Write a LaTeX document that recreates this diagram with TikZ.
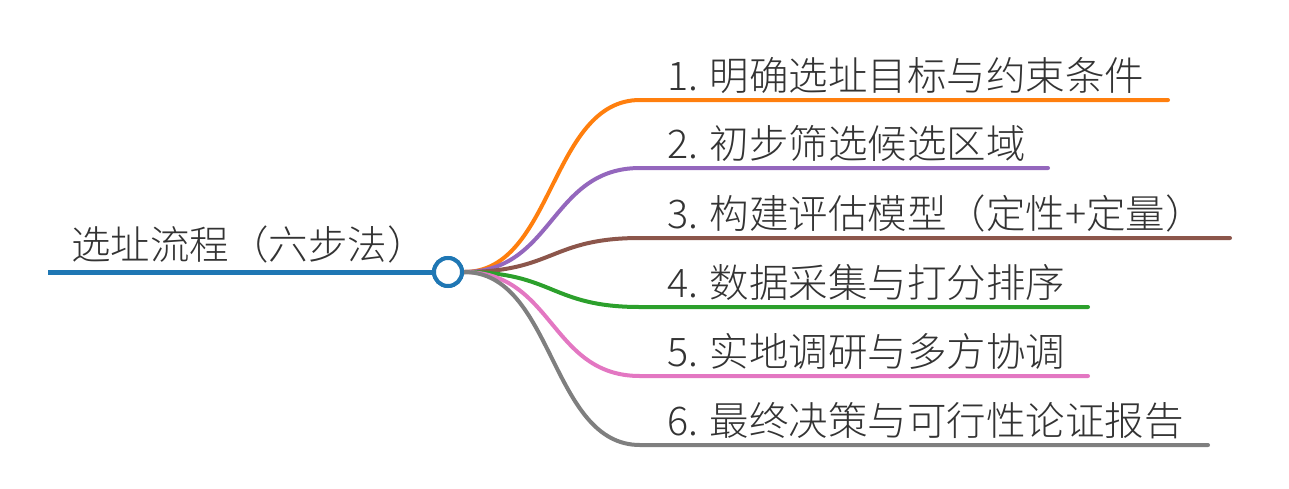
\documentclass[tikz,border=0pt]{standalone}
\usepackage{fontspec}
\setmainfont{Noto Sans CJK SC}
\newfontfamily\cjk{Noto Sans CJK SC}[UprightFont={* Light}]
\definecolor{cRoot}{HTML}{1F77B4}
\definecolor{cOne}{HTML}{FF7F0E}
\definecolor{cTwo}{HTML}{9467BD}
\definecolor{cThree}{HTML}{8C564B}
\definecolor{cFour}{HTML}{2CA02C}
\definecolor{cFive}{HTML}{E377C2}
\definecolor{cSix}{HTML}{7F7F7F}
\definecolor{txt}{HTML}{333333}
\begin{document}
\begin{tikzpicture}[x=1pt,y=-1pt,
  lbl/.style={anchor=base west,inner sep=0pt,text=txt,font=\cjk\fontsize{39.5pt}{42pt}\selectfont},
  branch/.style={line width=4pt,line cap=round},
  hub/.style={circle,draw=cRoot,line width=4pt,fill=white,minimum size=28pt,inner sep=0pt}]
\useasboundingbox (0,0) rectangle (1289,488);
\node[lbl] (root) at (71,259) {选址流程（六步法）};
\coordinate (r0) at (48,272);
\node[hub] (c) at (448,272) {};
\draw[line width=5pt,cRoot] (r0) -- (c.west);
\foreach \i/\y/\xe/\col in {1/100/1168/cOne,2/168/1048/cTwo,3/238/1230/cThree,4/307/1088/cFour,5/376/1088/cFive,6/445/1208/cSix}{
  \coordinate (s\i) at (640,\y);
  \coordinate (e\i) at (\xe,\y);
  \draw[branch,\col] (c.east) .. controls +(90,0) and +(-90,0) .. (s\i) -- (e\i);
}
\node[hub] at (c) {};
\node[lbl] (l1) at (667,90) {1. 明确选址目标与约束条件};
\node[lbl] (l2) at (667,158) {2. 初步筛选候选区域};
\node[lbl] (l3) at (667,228) {3. 构建评估模型（定性+定量）};
\node[lbl] (l4) at (667,297) {4. 数据采集与打分排序};
\node[lbl] (l5) at (667,366) {5. 实地调研与多方协调};
\node[lbl] (l6) at (667,435) {6. 最终决策与可行性论证报告};
\end{tikzpicture}
\end{document}
